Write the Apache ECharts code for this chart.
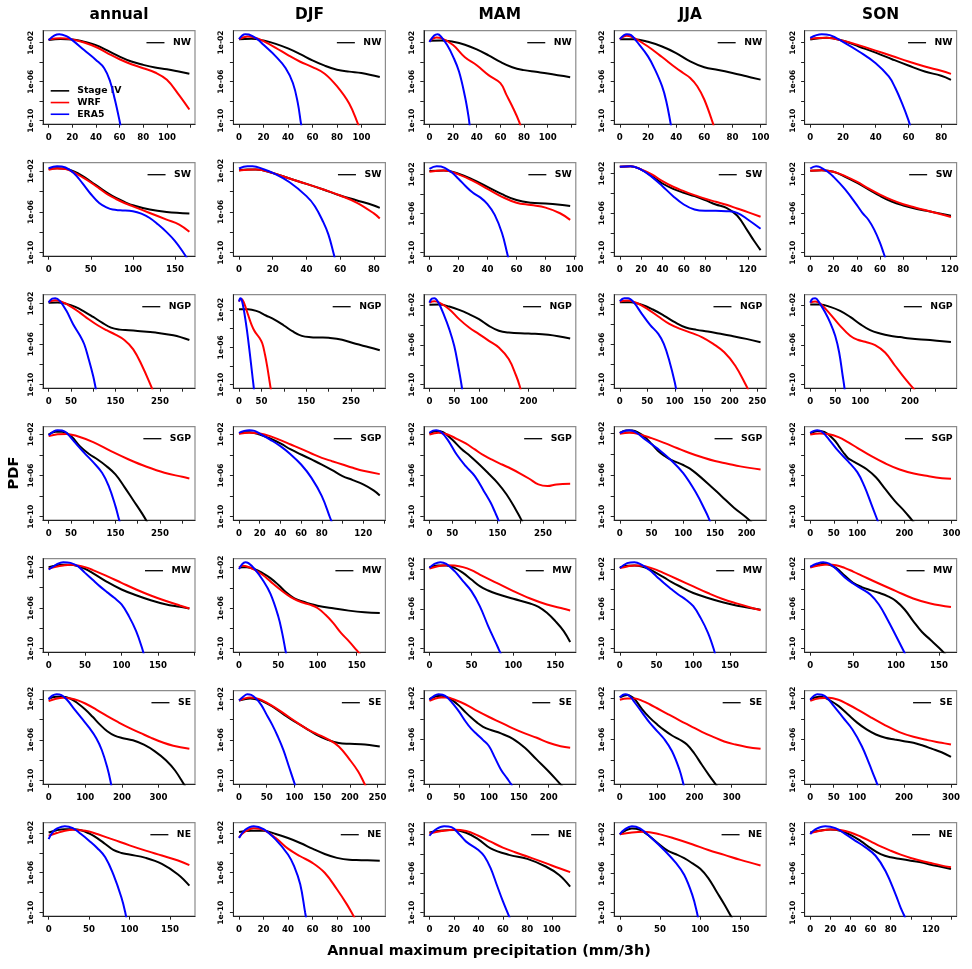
<!DOCTYPE html>
<html><head><meta charset="utf-8">
<script src="https://cdn.jsdelivr.net/npm/echarts@6/dist/echarts.min.js"></script>
<style>html,body{margin:0;padding:0;background:#fff}#c{width:972px;height:969px}</style>
</head><body><div id="c"></div>
<script>
// ---- categories ----
const seasons = ['annual','DJF','MAM','JJA','SON'];
const regions = ['NW','SW','NGP','SGP','MW','SE','NE'];
const seriesNames = ['Stage IV','WRF','ERA5'];
const seriesColors = ['#000000','#ff0000','#0000ff'];
// y ticks are log10(PDF)
const yTicks = [-10,-8,-6,-4,-2];
const yLabels = [-10,-6,-2];
// x tick step and shown x tick labels per panel (rows = regions, cols = seasons)
const xStep = [
 [20,20,20,20,20],
 [50,20,20,20,20],
 [50,50,50,50,50],
 [50,20,50,50,50],
 [50,50,50,50,50],
 [100,50,50,100,50],
 [50,20,20,50,20]];
const xLabels = [
 [[0,20,40,60,80,100],[0,20,40,60,80,100],[0,20,40,60,80,100],[0,20,40,60,80,100],[0,20,40,60,80]],
 [[0,50,100,150],[0,20,40,60,80],[0,20,40,60,80,100],[0,20,40,60,80,120],[0,20,40,60,80,120]],
 [[0,50,150,250],[0,50,150,250],[0,50,100,200],[0,50,100,150,200,250],[0,50,100,200]],
 [[0,50,150,250],[0,20,40,60,80,120],[0,50,150,250],[0,50,100,150,200],[0,50,100,200,300]],
 [[0,50,100,150],[0,50,100,150],[0,50,100,150],[0,50,100,150],[0,50,100,150]],
 [[0,100,200,300],[0,50,100,150,200,250],[0,50,100,150,200],[0,100,200,300],[0,50,100,200,300]],
 [[0,50,100,150],[0,20,40,60,80,100],[0,20,40,60,80,100],[0,50,100,150],[0,20,40,60,80,120]]];

// ---- series values: [x (mm/3h), log10(PDF)], order [Stage IV, WRF, ERA5] ----
const NW_annual = [
 [[0,-1.73],[10,-1.62],[20,-1.66],[30,-1.9],[40,-2.24],[50,-2.81],[60,-3.42],[70,-3.93],[80,-4.27],[90,-4.54],[100,-4.71],[110,-4.95],[119,-5.19]],
 [[0,-1.66],[10,-1.53],[20,-1.66],[30,-1.97],[40,-2.44],[50,-3.08],[60,-3.69],[70,-4.2],[80,-4.61],[90,-5.05],[100,-5.8],[110,-7.32],[119,-8.85]],
 [[0,-1.73],[5,-1.25],[9,-1.12],[15,-1.32],[20,-1.73],[30,-2.75],[40,-3.76],[47,-4.61],[52,-5.97],[56,-7.83],[60,-10.03],[61.5,-11]]];
const NW_DJF = [
 [[0,-1.66],[10,-1.63],[20,-1.8],[30,-2.14],[40,-2.61],[50,-3.19],[60,-3.83],[70,-4.37],[80,-4.78],[90,-4.98],[100,-5.12],[115,-5.53]],
 [[0,-1.66],[7,-1.39],[15,-1.59],[20,-1.86],[30,-2.54],[40,-3.29],[50,-3.97],[60,-4.51],[70,-5.19],[80,-6.47],[90,-8.24],[97,-10.27],[99,-11]],
 [[0,-1.66],[5,-1.15],[8,-1.19],[15,-1.66],[20,-2.24],[30,-3.42],[38,-4.61],[44,-6.14],[48,-8.17],[50.5,-10.2],[51.5,-11]]];
const NW_MAM = [
 [[0,-1.8],[10,-1.76],[20,-1.9],[30,-2.2],[40,-2.68],[50,-3.29],[60,-3.97],[70,-4.51],[80,-4.81],[90,-4.98],[100,-5.15],[119,-5.53]],
 [[0,-1.86],[6,-1.46],[10,-1.53],[20,-2.24],[30,-3.49],[40,-4.31],[50,-5.32],[60,-6.14],[65,-7.32],[70,-8.51],[76,-10.14],[78,-11]],
 [[0,-1.93],[4,-1.25],[7,-1.12],[10,-1.39],[15,-2.24],[20,-3.42],[25,-4.95],[30,-7.49],[33,-9.53],[34.5,-11]]];
const NW_JJA = [
 [[0,-1.66],[10,-1.66],[20,-1.93],[30,-2.41],[40,-3.08],[50,-3.93],[60,-4.54],[70,-4.81],[80,-5.12],[90,-5.46],[100,-5.8]],
 [[0,-1.66],[5,-1.32],[10,-1.53],[20,-2.41],[30,-3.49],[40,-4.61],[45,-5.12],[50,-5.63],[55,-6.47],[60,-7.83],[66,-10.2],[67.5,-11]],
 [[0,-1.66],[5,-1.15],[8,-1.25],[12,-1.9],[20,-3.42],[25,-4.78],[30,-6.47],[33,-8],[36,-10.2],[37,-11]]];
const NW_SON = [
 [[0,-1.66],[10,-1.49],[20,-1.8],[30,-2.41],[40,-3.02],[50,-3.69],[60,-4.34],[70,-4.95],[80,-5.39],[86,-5.8]],
 [[0,-1.59],[10,-1.49],[20,-1.8],[30,-2.27],[40,-2.81],[50,-3.36],[60,-3.93],[70,-4.44],[80,-4.88],[86,-5.19]],
 [[0,-1.49],[7,-1.12],[12,-1.22],[20,-1.9],[30,-2.92],[40,-4.1],[48,-5.46],[52,-6.64],[56,-8.17],[60,-9.93],[61.5,-10.8]]];

const SW_annual = [
 [[0,-1.8],[10,-1.71],[20,-1.77],[30,-2.03],[40,-2.46],[50,-3.01],[60,-3.59],[70,-4.15],[80,-4.63],[90,-5.02],[100,-5.35],[120,-5.77],[140,-6],[167,-6.16]],
 [[0,-1.87],[10,-1.74],[20,-1.8],[30,-2.13],[40,-2.59],[50,-3.11],[60,-3.69],[70,-4.28],[80,-4.73],[90,-5.12],[100,-5.45],[120,-6.1],[140,-6.75],[155,-7.24],[167,-7.95]],
 [[0,-1.71],[10,-1.51],[20,-1.64],[30,-2.2],[40,-3.17],[50,-4.24],[60,-5.12],[70,-5.61],[76,-5.77],[85,-5.84],[100,-5.93],[110,-6.16],[120,-6.59],[130,-7.24],[140,-7.98],[150,-8.86],[160,-10],[165,-10.65]]];
const SW_DJF = [
 [[0,-1.93],[5,-1.87],[10,-1.87],[20,-2.2],[30,-2.75],[40,-3.27],[50,-3.82],[60,-4.41],[70,-4.89],[80,-5.38],[83.5,-5.61]],
 [[0,-1.97],[10,-1.87],[20,-2.2],[30,-2.75],[40,-3.27],[50,-3.82],[60,-4.41],[70,-5.12],[80,-6.16],[83.5,-6.65]],
 [[0,-1.77],[5,-1.54],[8,-1.54],[15,-1.87],[20,-2.2],[30,-3.11],[40,-4.47],[45,-5.45],[50,-7.01],[53,-8.21],[56,-10],[57.5,-11]]];
const SW_MAM = [
 [[0,-1.66],[10,-1.6],[20,-1.93],[30,-2.54],[40,-3.28],[50,-4.02],[60,-4.62],[70,-4.89],[80,-4.96],[90,-5.09],[97,-5.23]],
 [[0,-1.73],[10,-1.6],[20,-2],[30,-2.67],[40,-3.48],[50,-4.29],[60,-4.89],[70,-5.13],[80,-5.39],[90,-5.97],[97,-6.64]],
 [[0,-1.43],[5,-1.16],[8,-1.19],[15,-1.76],[20,-2.44],[25,-3.21],[30,-3.88],[35,-4.35],[40,-5.03],[45,-6.13],[50,-7.98],[53.5,-10],[55,-11]]];
const SW_JJA = [
 [[0,-1.33],[10,-1.26],[20,-1.6],[30,-2.27],[40,-3.01],[50,-3.55],[60,-3.95],[70,-4.29],[80,-4.69],[90,-5.13],[100,-5.46],[110,-6.24],[120,-7.82],[126,-8.82],[132,-9.73]],
 [[0,-1.33],[10,-1.26],[20,-1.6],[30,-2.1],[40,-2.77],[50,-3.34],[60,-3.78],[70,-4.18],[80,-4.55],[90,-4.86],[100,-5.16],[110,-5.53],[120,-5.9],[132,-6.37]],
 [[0,-1.33],[10,-1.26],[20,-1.6],[30,-2.34],[40,-3.28],[50,-4.29],[60,-5.13],[70,-5.63],[80,-5.76],[90,-5.76],[100,-5.8],[110,-5.97],[120,-6.64],[132,-7.58]]];
const SW_SON = [
 [[0,-1.66],[10,-1.6],[20,-1.76],[30,-2.27],[40,-2.87],[50,-3.55],[60,-4.22],[70,-4.79],[80,-5.19],[90,-5.5],[100,-5.73],[110,-5.97],[121,-6.24]],
 [[0,-1.66],[10,-1.6],[20,-1.76],[30,-2.2],[40,-2.77],[50,-3.45],[60,-4.08],[70,-4.62],[80,-5.06],[90,-5.39],[100,-5.7],[110,-6],[121,-6.37]],
 [[0,-1.43],[5,-1.19],[8,-1.26],[15,-1.76],[20,-2.27],[30,-3.55],[40,-5.13],[45,-5.97],[50,-6.64],[55,-7.65],[60,-8.99],[63,-10],[65,-10.7]]];

const NGP_annual = [
 [[0,-1.93],[20,-1.9],[40,-2.03],[60,-2.33],[80,-2.79],[100,-3.32],[120,-3.88],[140,-4.37],[160,-4.57],[180,-4.63],[200,-4.7],[240,-4.86],[280,-5.13],[316,-5.59]],
 [[0,-1.84],[15,-1.67],[30,-1.84],[50,-2.3],[70,-2.89],[90,-3.55],[110,-4.14],[130,-4.63],[150,-5.06],[170,-5.59],[190,-6.51],[210,-8.15],[230,-10.13],[236,-10.8]],
 [[0,-1.9],[8,-1.51],[15,-1.47],[25,-1.74],[40,-2.72],[55,-4.04],[70,-5.13],[80,-6.01],[90,-7.49],[100,-9.14],[105,-10.2],[108,-10.9]]];
const NGP_DJF = [
 [[0,-1.93],[20,-1.93],[40,-2.14],[60,-2.6],[80,-3.07],[100,-3.67],[120,-4.31],[140,-4.78],[160,-4.92],[180,-4.95],[200,-4.99],[230,-5.2],[260,-5.63],[290,-5.99],[314,-6.31]],
 [[0,-1.11],[4,-0.85],[8,-0.95],[13,-1.5],[20,-2.5],[28,-3.6],[35,-4.3],[45,-4.95],[52,-5.6],[58,-6.8],[63,-8.1],[68,-9.6],[71,-10.5],[73,-11]],
 [[0,-1.11],[3,-0.75],[6,-0.93],[12,-2.36],[18,-4.31],[24,-6.63],[30,-9.12],[33,-10.36],[34,-11]]];
const NGP_MAM = [
 [[0,-2],[20,-1.97],[40,-2.17],[60,-2.5],[80,-2.93],[100,-3.43],[120,-4.1],[140,-4.6],[160,-4.77],[200,-4.87],[240,-5],[284,-5.37]],
 [[0,-1.77],[10,-1.63],[20,-1.77],[40,-2.43],[60,-3.43],[80,-4.27],[100,-4.93],[120,-5.6],[140,-6.27],[160,-7.43],[175,-9.1],[182,-10.1],[186,-11]],
 [[0,-1.77],[5,-1.37],[10,-1.33],[18,-1.77],[30,-3.1],[40,-4.43],[50,-6.1],[58,-8.1],[65,-10.1],[67,-11]]];
const NGP_JJA = [
 [[0,-1.77],[20,-1.77],[40,-2.03],[60,-2.5],[80,-3.1],[100,-3.77],[120,-4.3],[140,-4.53],[160,-4.7],[180,-4.9],[200,-5.1],[230,-5.43],[256,-5.77]],
 [[0,-1.7],[15,-1.6],[30,-1.83],[50,-2.43],[70,-3.2],[90,-3.93],[110,-4.43],[130,-4.83],[150,-5.27],[170,-5.93],[190,-6.77],[210,-8.1],[230,-10.1],[236,-10.8]],
 [[0,-1.67],[8,-1.37],[15,-1.37],[25,-1.77],[40,-2.93],[55,-4.03],[70,-4.93],[80,-5.93],[90,-7.6],[100,-9.77],[104,-11]]];
const NGP_SON = [
 [[0,-1.97],[20,-1.97],[40,-2.2],[60,-2.6],[80,-3.2],[100,-3.93],[120,-4.53],[140,-4.87],[160,-5.1],[180,-5.23],[200,-5.37],[240,-5.53],[282,-5.73]],
 [[0,-1.77],[10,-1.67],[20,-1.87],[40,-2.93],[60,-4.1],[80,-5.1],[95,-5.5],[110,-5.7],[130,-6.03],[150,-6.77],[170,-8.1],[190,-9.4],[207,-10.4],[215,-10.9]],
 [[0,-1.77],[5,-1.37],[10,-1.33],[18,-1.77],[30,-2.77],[40,-3.77],[50,-5.1],[58,-6.77],[65,-9.1],[68,-10.1],[70,-11]]];

const SGP_annual = [
 [[0,-2.03],[15,-1.77],[30,-1.77],[50,-2.19],[70,-3.16],[90,-3.9],[110,-4.45],[130,-5.1],[150,-5.9],[170,-7.1],[190,-8.4],[210,-9.7],[225,-10.8]],
 [[0,-2.19],[20,-2],[40,-1.97],[60,-2.13],[100,-2.77],[140,-3.65],[180,-4.45],[220,-5.16],[260,-5.74],[300,-6.13],[316,-6.29]],
 [[0,-2.1],[10,-1.77],[20,-1.61],[30,-1.65],[40,-1.87],[60,-2.84],[80,-3.81],[100,-4.71],[120,-5.74],[135,-7.03],[150,-8.97],[157,-10.1],[161,-10.7]]];
const SGP_DJF = [
 [[0,-1.94],[5,-1.81],[10,-1.81],[20,-2.03],[30,-2.42],[40,-2.9],[50,-3.48],[60,-3.97],[70,-4.45],[80,-4.94],[90,-5.48],[100,-6.06],[110,-6.45],[120,-6.87],[130,-7.45],[136,-7.94]],
 [[0,-1.97],[10,-1.87],[20,-1.94],[30,-2.19],[40,-2.58],[50,-3],[60,-3.42],[70,-3.87],[80,-4.29],[90,-4.62],[100,-4.94],[110,-5.26],[120,-5.55],[136,-5.87]],
 [[0,-1.87],[5,-1.68],[10,-1.61],[15,-1.68],[20,-1.94],[30,-2.52],[40,-3.16],[50,-3.97],[60,-4.94],[70,-6.23],[80,-8],[88,-10.1],[91,-10.9]]];
const SGP_MAM = [
 [[0,-1.94],[15,-1.68],[30,-1.81],[50,-2.52],[70,-3.42],[90,-4.13],[110,-4.94],[130,-5.81],[150,-6.71],[170,-7.84],[190,-9.29],[200,-10.1],[205,-10.5]],
 [[0,-2.03],[20,-1.87],[40,-2.03],[60,-2.45],[80,-2.9],[100,-3.48],[120,-4.06],[140,-4.52],[160,-4.94],[180,-5.35],[200,-5.81],[220,-6.32],[240,-6.87],[260,-7.03],[280,-6.87],[310,-6.81]],
 [[0,-1.87],[8,-1.65],[15,-1.61],[25,-1.77],[40,-2.52],[60,-3.97],[80,-5.1],[100,-6.06],[120,-7.52],[135,-8.65],[145,-9.61],[152,-10.32],[156,-10.8]]];
const SGP_JJA = [
 [[0,-1.94],[10,-1.71],[20,-1.71],[30,-1.94],[40,-2.35],[50,-3],[60,-3.65],[70,-4.13],[80,-4.52],[90,-4.77],[100,-5.03],[110,-5.35],[120,-5.81],[140,-6.87],[160,-8],[180,-9.13],[200,-10.1],[212,-10.8]],
 [[0,-2.03],[15,-1.94],[30,-2.06],[50,-2.45],[70,-2.9],[90,-3.39],[110,-3.87],[130,-4.29],[150,-4.65],[170,-4.9],[190,-5.16],[222,-5.45]],
 [[0,-1.97],[8,-1.74],[15,-1.68],[25,-1.87],[40,-2.58],[60,-3.48],[80,-4.52],[100,-5.81],[120,-7.68],[135,-9.45],[140,-10.1],[144,-10.7]]];
const SGP_SON = [
 [[0,-1.94],[15,-1.68],[30,-1.77],[50,-2.52],[60,-3.1],[70,-3.75],[80,-4.3],[90,-4.6],[100,-4.85],[120,-5.4],[140,-6.2],[160,-7.35],[180,-8.48],[200,-9.45],[215,-10.26],[222,-10.65]],
 [[0,-2.03],[20,-1.94],[40,-2],[60,-2.29],[80,-2.77],[100,-3.32],[130,-4.13],[160,-4.84],[190,-5.42],[220,-5.81],[250,-6.06],[280,-6.26],[299,-6.32]],
 [[0,-1.87],[8,-1.68],[15,-1.61],[25,-1.77],[40,-2.52],[60,-3.65],[80,-4.61],[100,-5.68],[115,-7.03],[130,-8.81],[140,-10],[145,-10.6]]];

const MW_annual = [
 [[0,-2],[10,-1.84],[20,-1.77],[30,-1.77],[40,-1.9],[50,-2.16],[60,-2.56],[80,-3.44],[100,-4.19],[120,-4.75],[140,-5.24],[160,-5.63],[180,-5.89],[193,-6.05]],
 [[0,-2.16],[10,-1.97],[20,-1.84],[30,-1.77],[40,-1.84],[50,-2],[60,-2.26],[80,-2.88],[100,-3.54],[120,-4.19],[140,-4.78],[160,-5.3],[180,-5.76],[193,-6.05]],
 [[0,-2.23],[10,-1.77],[20,-1.51],[30,-1.58],[40,-1.9],[50,-2.56],[60,-3.21],[70,-3.86],[80,-4.45],[90,-5.01],[100,-5.66],[110,-6.8],[120,-8.27],[128,-9.91],[132,-11]]];
const MW_DJF = [
 [[0,-2],[5,-1.97],[10,-1.97],[20,-2.16],[30,-2.56],[40,-3.05],[50,-3.7],[60,-4.45],[70,-5.01],[80,-5.33],[90,-5.56],[100,-5.76],[120,-6.02],[140,-6.25],[160,-6.41],[179.5,-6.48]],
 [[0,-2],[5,-1.84],[10,-1.9],[20,-2.23],[30,-2.72],[40,-3.37],[50,-4.03],[60,-4.61],[70,-5.1],[80,-5.43],[90,-5.66],[100,-5.99],[110,-6.64],[120,-7.46],[130,-8.44],[140,-9.25],[150,-10.14],[155,-10.6]],
 [[0,-2.16],[4,-1.67],[8,-1.48],[12,-1.58],[20,-2.16],[30,-3.21],[40,-4.58],[50,-6.8],[55,-8.44],[59,-10.07],[60.5,-10.7]]];
const MW_MAM = [
 [[0,-1.83],[10,-1.67],[20,-1.67],[30,-1.9],[40,-2.4],[50,-3.07],[60,-3.73],[70,-4.17],[80,-4.5],[100,-5],[120,-5.47],[130,-5.8],[140,-6.4],[150,-7.23],[160,-8.23],[167.7,-9.33]],
 [[0,-1.97],[10,-1.73],[20,-1.63],[30,-1.67],[40,-1.83],[50,-2.13],[60,-2.57],[80,-3.4],[100,-4.23],[120,-4.97],[140,-5.57],[160,-6],[167.7,-6.17]],
 [[0,-1.9],[6,-1.5],[13,-1.33],[20,-1.5],[30,-2.23],[40,-3.23],[50,-4.23],[60,-5.73],[70,-7.73],[80,-9.57],[83,-10.13],[86,-10.7]]];
const MW_JJA = [
 [[0,-1.83],[10,-1.67],[20,-1.63],[30,-1.73],[40,-2],[50,-2.4],[60,-2.83],[70,-3.27],[80,-3.67],[100,-4.4],[120,-4.9],[140,-5.33],[160,-5.67],[180,-5.93],[191.6,-6.07]],
 [[0,-1.9],[10,-1.73],[20,-1.63],[30,-1.67],[40,-1.83],[50,-2.07],[60,-2.4],[80,-3.07],[100,-3.73],[120,-4.4],[140,-5],[160,-5.47],[180,-5.9],[191.6,-6.13]],
 [[0,-1.9],[10,-1.4],[20,-1.3],[30,-1.57],[40,-2.07],[50,-2.73],[60,-3.4],[70,-4],[80,-4.57],[90,-5.07],[100,-5.73],[110,-6.9],[120,-8.4],[128,-10.07],[131,-11]]];
const MW_SON = [
 [[0,-1.8],[10,-1.57],[15,-1.5],[20,-1.53],[30,-1.9],[40,-2.67],[50,-3.4],[60,-3.83],[70,-4.13],[80,-4.4],[90,-4.73],[100,-5.23],[110,-6.07],[120,-7.23],[130,-8.3],[140,-9.1],[150,-9.9],[158,-10.6]],
 [[0,-1.87],[10,-1.67],[20,-1.57],[30,-1.63],[40,-1.9],[50,-2.27],[60,-2.67],[80,-3.47],[100,-4.23],[120,-4.97],[140,-5.47],[164,-5.83]],
 [[0,-1.8],[8,-1.47],[15,-1.33],[22,-1.47],[30,-2],[40,-2.83],[50,-3.47],[60,-4],[70,-4.57],[80,-5.57],[90,-7.07],[100,-8.73],[108,-10.07],[111,-10.6]]];

const SE_annual = [
 [[0,-2],[20,-1.8],[40,-1.8],[60,-2],[80,-2.46],[100,-3.05],[120,-3.76],[140,-4.52],[160,-5.17],[180,-5.6],[200,-5.82],[230,-6.05],[260,-6.48],[290,-7.13],[320,-8],[345,-9],[370,-10.4],[380,-11]],
 [[0,-2.23],[20,-2],[40,-1.9],[60,-1.97],[80,-2.16],[100,-2.46],[130,-3.05],[160,-3.7],[190,-4.29],[220,-4.84],[250,-5.33],[280,-5.82],[310,-6.25],[340,-6.58],[384,-6.87]],
 [[0,-2.07],[10,-1.7],[22,-1.55],[35,-1.65],[50,-2.1],[70,-3],[90,-3.9],[110,-4.8],[130,-5.85],[145,-7],[160,-8.7],[169,-10.07],[173,-11]]];
const SE_DJF = [
 [[0,-2.13],[10,-2],[20,-1.93],[30,-2],[40,-2.13],[60,-2.72],[80,-3.47],[100,-4.19],[120,-4.84],[140,-5.5],[160,-5.99],[180,-6.31],[200,-6.38],[220,-6.41],[254,-6.64]],
 [[0,-2.13],[10,-1.93],[20,-1.84],[30,-1.9],[40,-2.07],[60,-2.65],[80,-3.37],[100,-4.12],[120,-4.84],[140,-5.4],[160,-5.92],[180,-6.64],[200,-7.95],[215,-9.09],[226,-10.24],[231,-10.8]],
 [[0,-2.13],[8,-1.74],[15,-1.51],[22,-1.58],[30,-1.9],[40,-2.56],[50,-3.54],[60,-4.52],[70,-5.66],[80,-6.97],[90,-8.6],[100,-10.24],[103,-10.75]]];
const SE_MAM = [
 [[0,-2.07],[10,-1.8],[20,-1.74],[30,-1.9],[40,-2.23],[50,-2.72],[60,-3.31],[70,-3.86],[80,-4.35],[90,-4.75],[100,-5.01],[120,-5.4],[140,-5.92],[160,-6.8],[180,-7.95],[200,-9.1],[219,-10.3],[228,-10.85]],
 [[0,-2.23],[10,-2],[20,-1.9],[30,-1.9],[40,-2.07],[60,-2.56],[80,-3.21],[100,-3.8],[120,-4.35],[140,-4.91],[160,-5.4],[180,-5.82],[200,-6.31],[220,-6.64],[236,-6.8]],
 [[0,-2.13],[8,-1.74],[15,-1.58],[22,-1.64],[30,-1.9],[40,-2.56],[50,-3.31],[60,-4.19],[70,-4.94],[80,-5.5],[90,-6.05],[100,-6.64],[110,-7.78],[120,-8.93],[130,-9.75],[135,-10.17],[139,-10.5]]];
const SE_JJA = [
 [[0,-1.9],[10,-1.74],[20,-1.67],[30,-1.8],[40,-2.07],[60,-3.05],[80,-3.86],[100,-4.52],[120,-5.1],[140,-5.6],[160,-5.99],[180,-6.48],[200,-7.35],[220,-8.45],[240,-9.5],[258,-10.4],[265,-10.75]],
 [[0,-2.13],[20,-2],[40,-2],[60,-2.23],[80,-2.56],[100,-2.95],[130,-3.54],[160,-4.12],[190,-4.68],[220,-5.24],[250,-5.73],[280,-6.18],[310,-6.48],[340,-6.71],[377.5,-6.9]],
 [[0,-1.9],[8,-1.64],[15,-1.58],[22,-1.64],[30,-1.9],[40,-2.39],[60,-3.37],[80,-4.35],[100,-5.17],[120,-5.99],[140,-7.13],[160,-8.93],[170,-10.24],[173,-10.7]]];
const SE_SON = [
 [[0,-2.07],[10,-1.9],[20,-1.84],[30,-1.9],[40,-2.13],[60,-2.72],[80,-3.54],[100,-4.35],[120,-5.01],[140,-5.5],[160,-5.82],[180,-5.99],[200,-6.15],[220,-6.31],[240,-6.58],[260,-6.9],[280,-7.23],[300,-7.69]],
 [[0,-2.23],[20,-1.97],[40,-1.93],[60,-2.13],[80,-2.56],[100,-3.05],[130,-3.86],[160,-4.61],[190,-5.27],[220,-5.73],[250,-6.05],[280,-6.31],[300,-6.48]],
 [[0,-2.13],[8,-1.74],[15,-1.58],[25,-1.64],[35,-1.9],[50,-2.72],[70,-3.86],[90,-5.01],[110,-6.64],[125,-8.27],[135,-9.42],[142,-10.24],[145,-10.6]]];

const NE_annual = [
 [[0,-1.97],[10,-1.74],[20,-1.64],[30,-1.64],[40,-1.74],[50,-2.07],[60,-2.53],[70,-3.12],[80,-3.72],[90,-4.02],[100,-4.18],[120,-4.51],[140,-5.11],[160,-6.17],[174,-7.29]],
 [[0,-2.3],[10,-2.03],[20,-1.8],[30,-1.7],[40,-1.74],[50,-1.87],[60,-2.13],[80,-2.69],[100,-3.26],[120,-3.79],[140,-4.28],[160,-4.78],[174,-5.24]],
 [[0,-2.63],[5,-1.93],[10,-1.6],[20,-1.34],[30,-1.54],[40,-2.13],[50,-2.79],[60,-3.52],[70,-4.45],[80,-6.17],[90,-8.48],[95,-10.07],[97,-11]]];
const NE_DJF = [
 [[0,-1.93],[10,-1.8],[20,-1.8],[30,-2.13],[40,-2.53],[50,-3.02],[60,-3.59],[70,-4.12],[80,-4.51],[90,-4.71],[100,-4.74],[115,-4.81]],
 [[0,-2.46],[5,-1.87],[12,-1.54],[20,-1.7],[30,-2.53],[40,-3.59],[50,-4.35],[60,-5.01],[70,-6],[80,-7.65],[88,-9.14],[93,-10.2],[95,-10.65]],
 [[0,-2.53],[5,-1.7],[12,-1.34],[20,-1.64],[30,-2.69],[40,-4.18],[45,-5.34],[50,-7.16],[54,-9.97],[55.5,-11]]];
const NE_MAM = [
 [[0,-1.8],[10,-1.59],[20,-1.56],[30,-1.83],[40,-2.5],[50,-3.42],[65,-4.09],[80,-4.5],[95,-5.28],[106,-6.14],[115,-7.34]],
 [[0,-1.9],[10,-1.66],[20,-1.53],[30,-1.66],[40,-2.14],[50,-2.74],[60,-3.35],[70,-3.82],[80,-4.26],[90,-4.7],[100,-5.18],[115,-5.85]],
 [[0,-2.14],[5,-1.51],[12,-1.16],[18,-1.26],[25,-2.07],[30,-2.74],[40,-3.59],[45,-4.26],[50,-5.45],[55,-7.14],[60,-8.82],[65,-10.34],[66,-10.65]]];
const NE_JJA = [
 [[0,-2],[8,-1.56],[15,-1.39],[25,-1.53],[35,-2.07],[50,-3.08],[60,-3.69],[70,-4.03],[80,-4.43],[90,-4.94],[100,-5.51],[110,-6.46],[120,-7.81],[130,-9.16],[137,-10.18],[140,-10.6]],
 [[0,-2],[15,-1.8],[30,-1.73],[50,-2],[70,-2.47],[90,-3.01],[110,-3.59],[130,-4.09],[150,-4.6],[175,-5.18]],
 [[0,-2],[5,-1.56],[15,-1.16],[25,-1.39],[40,-2.41],[55,-3.59],[70,-4.94],[80,-6.12],[90,-8.15],[96,-10],[98,-11]]];
const NE_SON = [
 [[0,-1.83],[10,-1.63],[20,-1.53],[30,-1.66],[40,-2.07],[50,-2.68],[60,-3.42],[70,-4.03],[80,-4.36],[90,-4.53],[100,-4.7],[110,-4.87],[120,-5.11],[130,-5.31],[140,-5.55]],
 [[0,-1.9],[10,-1.66],[20,-1.53],[30,-1.59],[40,-1.83],[50,-2.24],[60,-2.74],[70,-3.25],[80,-3.69],[90,-4.09],[100,-4.43],[110,-4.7],[120,-4.94],[130,-5.18],[140,-5.38]],
 [[0,-2],[5,-1.51],[15,-1.19],[25,-1.39],[35,-2],[45,-2.68],[55,-3.35],[65,-4.2],[75,-5.78],[85,-8.15],[90,-9.5],[93,-10.18],[95,-10.65]]];

const panelData = [
 [NW_annual, NW_DJF, NW_MAM, NW_JJA, NW_SON],
 [SW_annual, SW_DJF, SW_MAM, SW_JJA, SW_SON],
 [NGP_annual, NGP_DJF, NGP_MAM, NGP_JJA, NGP_SON],
 [SGP_annual, SGP_DJF, SGP_MAM, SGP_JJA, SGP_SON],
 [MW_annual, MW_DJF, MW_MAM, MW_JJA, MW_SON],
 [SE_annual, SE_DJF, SE_MAM, SE_JJA, SE_SON],
 [NE_annual, NE_DJF, NE_MAM, NE_JJA, NE_SON]];

// ---- layout ----
const L0 = 43, CW = 190.4, T0 = 30.7, RH = 132, BW = 152, BH = 93.5;
const FONT = '"DejaVu Sans", sans-serif';
const mctx = document.createElement('canvas').getContext('2d');
mctx.font = 'bold 9.3px "DejaVu Sans"';

const grids = [], xAxes = [], yAxes = [], series = [], graphics = [];
regions.forEach((reg, r) => {
  seasons.forEach((sea, c) => {
    const i = r * 5 + c;
    const left = L0 + c * CW, top = T0 + r * RH;
    const curves = panelData[r][c];
    let ymax = -Infinity, M = 0;
    curves.forEach(cv => cv.forEach(p => { if (p[1] > ymax) ymax = p[1]; if (p[0] > M) M = p[0]; }));
    const rng = ymax + 10;
    const ticks = [];
    for (let v = 0; v <= 1.04 * M + 1e-9; v += xStep[r][c]) ticks.push(v);
    grids.push({left: left, top: top, width: BW, height: BH, show: true,
      borderColor: '#8c8c8c', borderWidth: 1.2, backgroundColor: 'transparent',
      containLabel: false, outerBoundsMode: 'none'});
    xAxes.push({gridIndex: i, type: 'value', min: -0.04 * M, max: 1.04 * M,
      axisLine: {show: true, onZero: false, lineStyle: {color: '#222', width: 1}},
      axisTick: {show: true, length: 3.5, customValues: ticks, lineStyle: {color: '#222', width: 1}},
      axisLabel: {show: true, customValues: xLabels[r][c], margin: 9, color: '#000',
        fontSize: 8.6, fontWeight: 'bold', fontFamily: FONT},
      splitLine: {show: false}});
    yAxes.push({gridIndex: i, type: 'value', min: -10 - 0.04 * rng, max: ymax + 0.04 * rng,
      axisLine: {show: true, onZero: false, lineStyle: {color: '#222', width: 1}},
      axisTick: {show: true, length: 3.5, customValues: yTicks, lineStyle: {color: '#222', width: 1}},
      axisLabel: {show: true, customValues: yLabels, rotate: 90, margin: 8, color: '#000',
        fontSize: 7.6, fontWeight: 'bold', fontFamily: FONT,
        formatter: v => '1e-' + String(Math.round(-v)).padStart(2, '0')},
      splitLine: {show: false}});
    curves.forEach((cv, k) => series.push({
      type: 'line', name: seriesNames[k], xAxisIndex: i, yAxisIndex: i, data: cv,
      symbol: 'none', showSymbol: false, smooth: 0.4, clip: true,
      lineStyle: {color: seriesColors[k], width: 2}, itemStyle: {color: seriesColors[k]},
      silent: true, z: 2 + k}));
    // region label with a short line
    const tw = mctx.measureText(reg).width;
    const tx = left + BW - 4, ty = top + 12;
    graphics.push({type: 'line', silent: true, z: 10,
      shape: {x1: tx - tw - 26.5, y1: ty, x2: tx - tw - 8.5, y2: ty},
      style: {stroke: '#000', lineWidth: 1.3}});
    graphics.push({type: 'text', silent: true, z: 10, x: tx, y: ty,
      style: {text: reg, fill: '#000', font: 'bold 9.3px ' + FONT, textAlign: 'right',
        textVerticalAlign: 'middle', verticalAlign: 'middle'}});
  });
});
// column titles
seasons.forEach((sea, c) => graphics.push({type: 'text', silent: true,
  x: L0 + c * CW + BW / 2, y: 15.3,
  style: {text: sea, fill: '#000', font: 'bold 15.4px ' + FONT, textAlign: 'center',
    textVerticalAlign: 'middle', verticalAlign: 'middle'}}));
graphics.push({type: 'text', silent: true, x: 14, y: 473, rotation: Math.PI / 2,
  style: {text: 'PDF', fill: '#000', font: 'bold 14.7px ' + FONT, textAlign: 'center',
    textVerticalAlign: 'middle', verticalAlign: 'middle'}});
graphics.push({type: 'text', silent: true, x: 489, y: 951,
  style: {text: 'Annual maximum precipitation (mm/3h)', fill: '#000', font: 'bold 14.4px ' + FONT,
    textAlign: 'center', textVerticalAlign: 'middle', verticalAlign: 'middle'}});

const chart = echarts.init(document.getElementById('c'), null, {renderer: 'canvas', width: 972, height: 969});
chart.setOption({
  animation: false,
  backgroundColor: '#ffffff',
  grid: grids, xAxis: xAxes, yAxis: yAxes, series: series,
  legend: {data: seriesNames, orient: 'vertical', left: 50.7, top: 85, padding: 0, icon: 'rect',
    itemWidth: 18.5, itemHeight: 1.6, itemGap: 0, selectedMode: false,
    textStyle: {color: '#000', fontWeight: 'bold', fontSize: 9.3, fontFamily: FONT, lineHeight: 11.7, padding: [0, 0, 0, 3]}},
  graphic: graphics
});
</script>
</body></html>
